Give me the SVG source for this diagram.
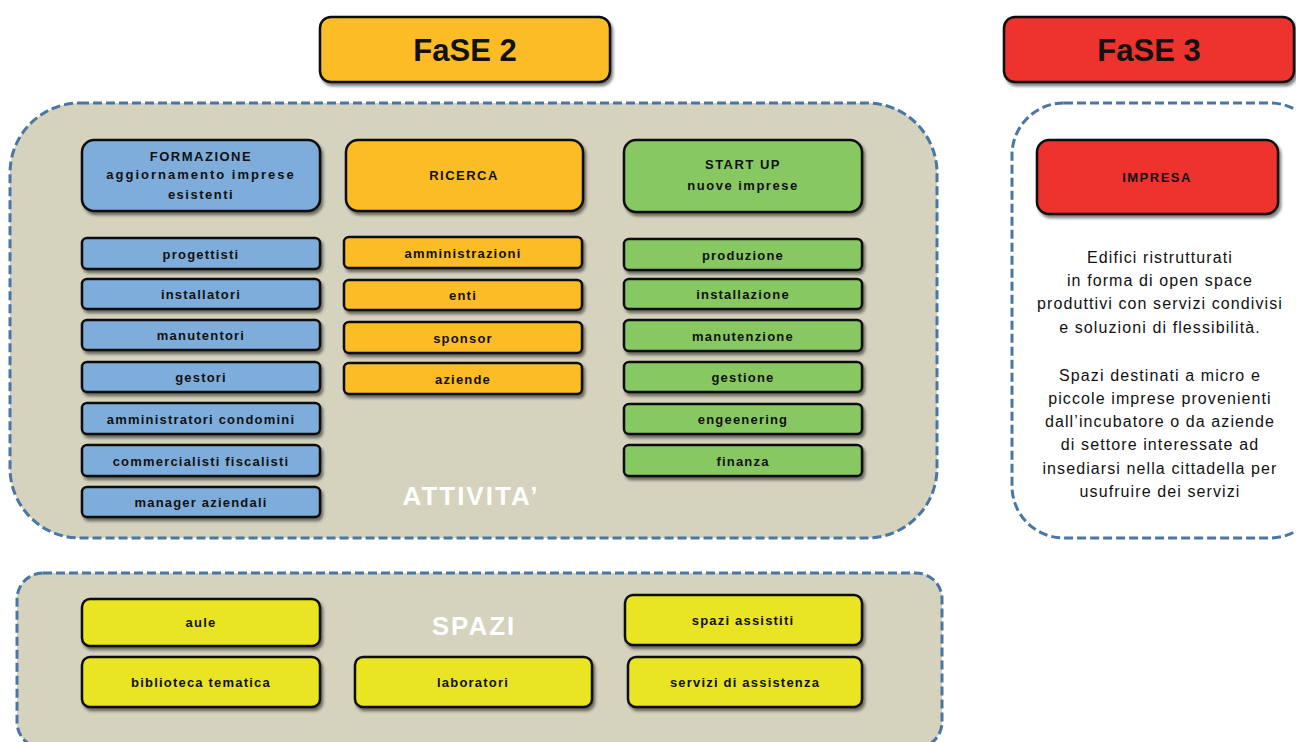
<svg xmlns="http://www.w3.org/2000/svg" width="1296" height="742" viewBox="0 0 1296 742">
<defs>
<filter id="sh" x="-10%" y="-20%" width="120%" height="150%">
<feGaussianBlur in="SourceAlpha" stdDeviation="1.5"/>
<feOffset dx="2" dy="3" result="b"/>
<feComponentTransfer><feFuncA type="linear" slope="0.5"/></feComponentTransfer>
<feMerge><feMergeNode/><feMergeNode in="SourceGraphic"/></feMerge>
</filter>
<style>
.cont{fill:#D5D2BE;stroke:#4A76A3;stroke-width:3;stroke-dasharray:9 4}
.contw{fill:#FFFFFF;stroke:#4A76A3;stroke-width:3;stroke-dasharray:9 4}
.box{stroke:#111;stroke-width:2.5;filter:url(#sh)}
.blue{fill:#7EADDB}
.orange{fill:#FBBC26}
.green{fill:#88C864}
.red{fill:#EE302E}
.yellow{fill:#EAE524}
text{font-family:"Liberation Sans",Arial,sans-serif;text-anchor:middle;fill:#111}
.t{font-size:13px;font-weight:bold;letter-spacing:1.2px}
.h{font-size:13px;font-weight:bold;letter-spacing:1.5px}
.big{font-size:31px;font-weight:bold}
.lbl{font-size:26px;font-weight:bold;fill:#FFFFFF;letter-spacing:2px}
.desc{font-size:16px;letter-spacing:1.1px}
</style>
</defs>
<g id="containers">
<rect id="attivita" class="cont" x="10" y="103" width="927" height="435" rx="70"/>
<rect id="spazi" class="cont" x="17" y="573" width="925" height="175" rx="26"/>
<rect id="fase3area" class="contw" x="1012" y="103" width="310" height="435" rx="52"/>
</g>
<g id="connectors"></g>
<g id="fase2"><rect class="box orange" x="320" y="17" width="290" height="65" rx="11"/><text class="big" x="465" y="61">FaSE 2</text></g>
<g id="fase3"><rect class="box red" x="1004" y="17" width="290" height="65" rx="11"/><text class="big" x="1149" y="61">FaSE 3</text></g>
<text class="lbl" x="471" y="505">ATTIVITA’</text>
<text class="lbl" x="474" y="635">SPAZI</text>
<g id="formazione"><rect class="box blue" x="82" y="140" width="238" height="71" rx="12"/><text class="h" x="201" y="161">FORMAZIONE</text><text class="h" x="201" y="179" style="letter-spacing:2px">aggiornamento imprese</text><text class="h" x="201" y="199">esistenti</text></g>
<g id="ricerca"><rect class="box orange" x="346" y="140" width="237" height="71" rx="12"/><text class="h" x="464" y="180">RICERCA</text></g>
<g id="startup"><rect class="box green" x="624" y="140" width="238" height="72" rx="12"/><text class="h" x="743" y="169">START UP</text><text class="h" x="743" y="190">nuove imprese</text></g>
<g id="progettisti"><rect class="box blue" x="82" y="238" width="238" height="31" rx="5"/><text class="t" x="201" y="259">progettisti</text></g>
<g id="installatori"><rect class="box blue" x="82" y="279" width="238" height="30" rx="5"/><text class="t" x="201" y="299">installatori</text></g>
<g id="manutentori"><rect class="box blue" x="82" y="320" width="238" height="30" rx="5"/><text class="t" x="201" y="340">manutentori</text></g>
<g id="gestori"><rect class="box blue" x="82" y="362" width="238" height="30" rx="5"/><text class="t" x="201" y="382">gestori</text></g>
<g id="amministratori"><rect class="box blue" x="82" y="403" width="238" height="31" rx="5"/><text class="t" x="201" y="424">amministratori condomini</text></g>
<g id="commercialisti"><rect class="box blue" x="82" y="445" width="238" height="31" rx="5"/><text class="t" x="201" y="466">commercialisti fiscalisti</text></g>
<g id="manager"><rect class="box blue" x="82" y="487" width="238" height="30" rx="5"/><text class="t" x="201" y="507">manager aziendali</text></g>
<g id="amministrazioni"><rect class="box orange" x="344" y="237" width="238" height="31" rx="5"/><text class="t" x="463" y="258">amministrazioni</text></g>
<g id="enti"><rect class="box orange" x="344" y="280" width="238" height="30" rx="5"/><text class="t" x="463" y="300">enti</text></g>
<g id="sponsor"><rect class="box orange" x="344" y="322" width="238" height="31" rx="5"/><text class="t" x="463" y="343">sponsor</text></g>
<g id="aziende"><rect class="box orange" x="344" y="363" width="238" height="31" rx="5"/><text class="t" x="463" y="384">aziende</text></g>
<g id="produzione"><rect class="box green" x="624" y="239" width="238" height="31" rx="5"/><text class="t" x="743" y="260">produzione</text></g>
<g id="installazione"><rect class="box green" x="624" y="279" width="238" height="30" rx="5"/><text class="t" x="743" y="299">installazione</text></g>
<g id="manutenzione"><rect class="box green" x="624" y="320" width="238" height="31" rx="5"/><text class="t" x="743" y="341">manutenzione</text></g>
<g id="gestione"><rect class="box green" x="624" y="362" width="238" height="30" rx="5"/><text class="t" x="743" y="382">gestione</text></g>
<g id="engeenering"><rect class="box green" x="624" y="404" width="238" height="30" rx="5"/><text class="t" x="743" y="424">engeenering</text></g>
<g id="finanza"><rect class="box green" x="624" y="445" width="238" height="31" rx="5"/><text class="t" x="743" y="466">finanza</text></g>
<g id="aule"><rect class="box yellow" x="82" y="599" width="238" height="47" rx="8"/><text class="t" x="201" y="627">aule</text></g>
<g id="spaziassistiti"><rect class="box yellow" x="625" y="595" width="237" height="50" rx="8"/><text class="t" x="743" y="625">spazi assistiti</text></g>
<g id="biblioteca"><rect class="box yellow" x="82" y="657" width="238" height="50" rx="8"/><text class="t" x="201" y="687">biblioteca tematica</text></g>
<g id="laboratori"><rect class="box yellow" x="355" y="657" width="237" height="50" rx="8"/><text class="t" x="473" y="687">laboratori</text></g>
<g id="servizi"><rect class="box yellow" x="628" y="657" width="234" height="50" rx="8"/><text class="t" x="745" y="687">servizi di assistenza</text></g>
<g id="impresa"><rect class="box red" x="1037" y="140" width="241" height="74" rx="12"/><text class="h" x="1157" y="182">IMPRESA</text></g>
<g id="descrizione">
<text class="desc" x="1160" y="263">Edifici ristrutturati</text>
<text class="desc" x="1160" y="286">in forma di open space</text>
<text class="desc" x="1160" y="309">produttivi con servizi condivisi</text>
<text class="desc" x="1160" y="333">e soluzioni di flessibilità.</text>
<text class="desc" x="1160" y="381">Spazi destinati a micro e</text>
<text class="desc" x="1160" y="404">piccole imprese provenienti</text>
<text class="desc" x="1160" y="427">dall’incubatore  o da aziende</text>
<text class="desc" x="1160" y="450">di settore interessate ad</text>
<text class="desc" x="1160" y="474">insediarsi nella cittadella per</text>
<text class="desc" x="1160" y="497">usufruire dei servizi</text>
</g>
</svg>
